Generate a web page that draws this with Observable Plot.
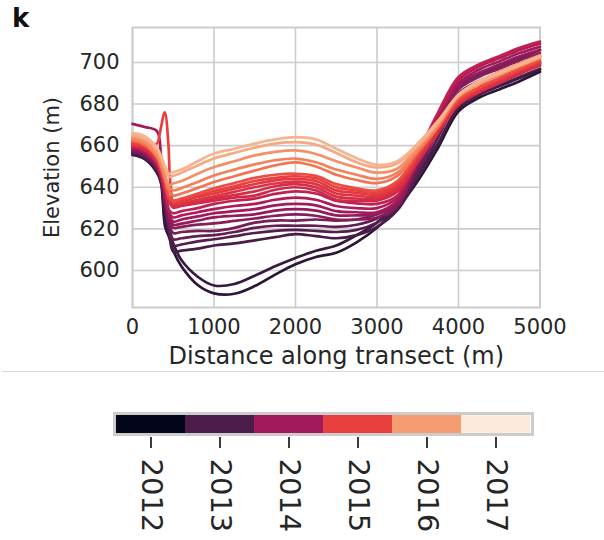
<!DOCTYPE html>
<html><head><meta charset="utf-8">
<script src="https://cdn.jsdelivr.net/npm/d3@7"></script>
<script src="https://cdn.jsdelivr.net/npm/@observablehq/plot@0.6"></script>
<style>
body{margin:0;background:#fff;font-family:"DejaVu Sans",sans-serif;}
#wrap{position:relative;width:604px;height:540px;overflow:hidden;background:#fff;}
#main{position:absolute;left:0;top:0;}
#bar{position:absolute;left:0;top:372px;}
#sep{position:absolute;left:2px;top:371px;width:602px;height:0;border-top:1.5px solid #d6d6d6;}
#panel{position:absolute;left:12px;top:3px;font-weight:bold;font-size:26px;color:#111;font-family:"DejaVu Sans",sans-serif;}
</style></head><body>
<div id="wrap"><div id="main"></div><div id="sep"></div><div id="bar"></div><div id="panel">k</div></div>
<script>
// Distance samples along transect (m)
const distance = [0,150,300,350,400,450,500,600,800,1000,1250,1500,1750,2000,2250,2500,2750,3000,3250,3500,3750,4000,4250,4500,4750,5000];

// 2012 profiles (elevation, m)
const years2012 = [2012.6, 2012.75];
const elev2012 = [
  [655.5,653.5,647,642,621,616,609.6,602,593,589,588.8,592.5,598,603,606.5,608.5,613.5,620.5,630,643,659,676.5,683,687,691,695.5],
  [657,655,649,644,624,619,613,605,597,592.8,593.5,597.5,602,606,609.5,612,617,623,633,646,661,678,684.5,688.5,692.5,696.5]
];
// 2013 profiles
const years2013 = [2012.95, 2013.1, 2013.3, 2013.5];
const elev2013 = [
  [656,654,648,642.5,630,619,609,609.5,610.5,612,613,614.5,616,617.5,616.5,615.5,617,621,629,645,661,678.5,684.5,689,693,697],
  [656.5,654.5,648.5,643,631,620,612,612.5,614,615,616.5,618,619,619.5,619,618.5,619.5,623,630,646,664,681.5,687.5,692,696,700],
  [657,655,649,643.5,632,621,615,615.5,616.5,617,618.5,620.5,621.5,621.5,621.5,621,622,625,631.5,648,667,685,691,695,699,703],
  [657.5,655.5,649.5,644,633,622,618,618.5,619,619,620.5,623,624,624,624.5,624,624.5,627,633,650,670,688,694,698,702,706]
];
// 2014 profiles
const years2014 = [2013.7, 2013.85, 2014.0, 2014.2, 2014.4];
const elev2014 = [
  [658,656,650,644.5,634,625,620.5,621,622,622.6,623.8,625,626.3,627,626.3,624.5,624.5,625.5,631,652,670,687,693,697,701,704.5],
  [658.5,656.5,650.5,645,635,626,622,622.5,624,625.5,626.3,627,628.8,629.5,628.8,626.5,626.5,627,632.5,653,672,689,695,699,703,706],
  [670.5,669,667,655,638,627,623.5,624.5,626,627.5,628.5,629.5,631.3,632,631.3,628.5,628,628,633.5,654,673,690,696.5,700.5,704.5,707.5],
  [659,657,651,646,637,628,625.5,626.5,628,629.5,631,632,634,635,634,631,630,630,635,655,674.5,691.5,698,702,706,709],
  [659.5,657.5,651.5,646.5,638,629,627.5,628.5,630,632,633.5,634.5,636.8,638,637,633.5,632.3,632,636,656,676,693,699,703,707,710]
];
// 2015 profiles
const years2015 = [2014.6, 2014.7, 2014.8, 2014.9, 2015.15];
const elev2015 = [
  [660,658,652,647,640,633,630.3,631,632.3,633.6,635,636,638.8,640,638.5,634,633.5,633.6,638,652,666,679.5,685.5,690,694.5,698.5],
  [660.5,658.5,652.5,647.5,640.5,633.5,630.8,631.6,633,634.6,636.3,638,640.5,641.5,640,635.5,634.6,634.5,639,653,667,680,686,690.5,695,699],
  [661,659,653,648,641,634,631.5,632.3,634,635.7,637.8,640,641.8,642.7,641.5,637,636,635.5,640,654,667.5,680.5,686.5,691,695.5,699.5],
  [661.5,659.5,653.5,648.5,641.5,634.5,632.2,633,635.3,637,639.3,641.5,643.3,644,643,638.5,637.3,636.5,641,654.5,668,681,687,691.5,696,700],
  [662,660,654,649,642,635,633.6,634.6,637,639.5,642,644.5,646,646.5,645.5,641.5,639.5,638.5,643,656,669,682,688,692.5,697,701]
];
// 2015 profile with the spike near the start
const spikeYear = 2015.0;
const spikeDistance = [0,150,300,330,396,440,455,470,500,600,800,1000,1250,1500,1750,2000,2250,2500,2750,3000,3250,3500,3750,4000,4250,4500,4750,5000];
const spikeElevation = [661,660,661,665,676,661,647,640,633,633.8,636,638.2,640.5,643,644.5,645.3,644.3,640,638.5,637.5,642,655,668.5,681.5,687.5,692,696.5,700.5];
// 2016 profiles
const years2016 = [2015.55, 2015.7, 2015.85, 2016.15, 2016.3];
const elev2016 = [
  [662.5,660.5,654.5,650,644,638,636,637,639.7,642.5,645.3,648,650.5,652,650,646,643.5,642,645.5,657,669,683.5,689.5,694,698,702],
  [663.5,661.5,655.5,651,645,640,638.5,639.6,642.5,645.7,648.5,651,653,653.8,652,648.5,646,644,647,658,670,684,690,695,699,703],
  [664,662,656,652,646,641,641.8,643,646.5,649.7,652.5,655.3,657,657.7,656,652.5,649.5,647,649,659,670.5,684.5,690.5,695.5,699.5,703.5],
  [665,663.5,658,654,649,645,645.5,647,650.5,653.8,656.5,659,661,661.7,660.5,656.5,652,649.5,651.5,660,671,684,690,694.5,698.5,702.5],
  [666,664.5,659,655,650,646.5,647.3,648.5,652.5,656.2,658.5,661,663,664.1,663,658.5,654,650.8,652.5,661,672,684.5,691,695,699,703]
];

// Axis ticks
const xTicks = [0,1000,2000,3000,4000,5000];
const yTicks = [600,620,640,660,680,700];
// Colour bar
const barYears = [2012,2013,2014,2015,2016,2017];
// Rocket colormap stops (year position -> colour)
const rocketStopYears = [2012, 2012.714, 2013, 2013.429, 2014, 2014.143, 2014.857, 2015, 2015.571, 2016, 2016.286, 2017];
const rocketStopColors = ["#03051a","#35193e","#4c1d4b","#701f57","#a11a5b","#ad1759","#e13342","#e83f3f","#f37651","#f69c73","#f6b48f","#faebdd"];

// Build tidy rows
const rows = [];
let id = 0;
function addGroup(yrs, elevs) {
  yrs.forEach((yr, k) => {
    const e = elevs[k];
    distance.forEach((d, i) => rows.push({id, year: yr, x: d, y: e[i]}));
    id++;
  });
}
addGroup(years2012, elev2012);
addGroup(years2013, elev2013);
addGroup(years2014, elev2014);
addGroup(years2015, elev2015);
spikeDistance.forEach((d, i) => rows.push({id, year: spikeYear, x: d, y: spikeElevation[i]}));
id++;
addGroup(years2016, elev2016);
// draw earlier years first
const order = d3.groups(rows, r => r.id).sort((a, b) => a[1][0].year - b[1][0].year);
const sortedRows = order.flatMap(g => g[1]);

const colorScale = {type: "linear", domain: rocketStopYears, range: rocketStopColors, interpolate: "rgb"};
const ink = "#262626";

const main = Plot.plot({
  width: 604, height: 372,
  marginLeft: 132, marginRight: 64.5, marginTop: 27, marginBottom: 65,
  style: {fontFamily: "DejaVu Sans, sans-serif", color: ink, background: "white", overflow: "visible"},
  x: {domain: [0, 5000], axis: null},
  y: {domain: [582.2, 716.8], axis: null},
  color: colorScale,
  marks: [
    Plot.gridX(xTicks, {stroke: "#cccccc", strokeOpacity: 1, strokeWidth: 1.6}),
    Plot.gridY(yTicks, {stroke: "#cccccc", strokeOpacity: 1, strokeWidth: 1.6}),
    Plot.frame({stroke: "#cccccc", strokeWidth: 2}),
    Plot.line(sortedRows, {x: "x", y: "y", z: "id", stroke: "year", strokeWidth: 2.7, curve: "catmull-rom"}),
    Plot.axisX(xTicks, {tickSize: 0, tickPadding: 12, fontSize: 21, label: null, tickFormat: d => String(d)}),
    Plot.axisY(yTicks, {tickSize: 0, tickPadding: 13, fontSize: 21, label: null, tickFormat: d => String(d)}),
    Plot.text(["Distance along transect (m)"], {frameAnchor: "bottom", dy: 49, fontSize: 24, lineAnchor: "middle", textAnchor: "middle"}),
    Plot.text(["Elevation (m)"], {frameAnchor: "left", dx: -80, rotate: -90, fontSize: 21, lineAnchor: "middle", textAnchor: "middle"})
  ]
});
document.getElementById("main").appendChild(main);

const bar = Plot.plot({
  width: 604, height: 168,
  marginLeft: 114, marginRight: 72, marginTop: 41, marginBottom: 106,
  style: {fontFamily: "DejaVu Sans, sans-serif", color: ink, background: "transparent", overflow: "visible"},
  x: {type: "band", domain: barYears, padding: 0, axis: null},
  color: colorScale,
  marks: [
    Plot.cell(barYears, {x: d => d, fill: d => d, inset: 0}),
    Plot.frame({stroke: "#cccccc", strokeWidth: 3}),
    Plot.axisX({tickSize: 11, tickFormat: () => "", label: null, dy: 3, stroke: ink, strokeWidth: 1.8}),
    Plot.text(barYears, {x: d => d, text: d => String(d), frameAnchor: "bottom", rotate: 90, textAnchor: "start", lineAnchor: "middle", dy: 24, fontSize: 29, fill: ink})
  ]
});
document.getElementById("bar").appendChild(bar);
</script>
</body></html>
